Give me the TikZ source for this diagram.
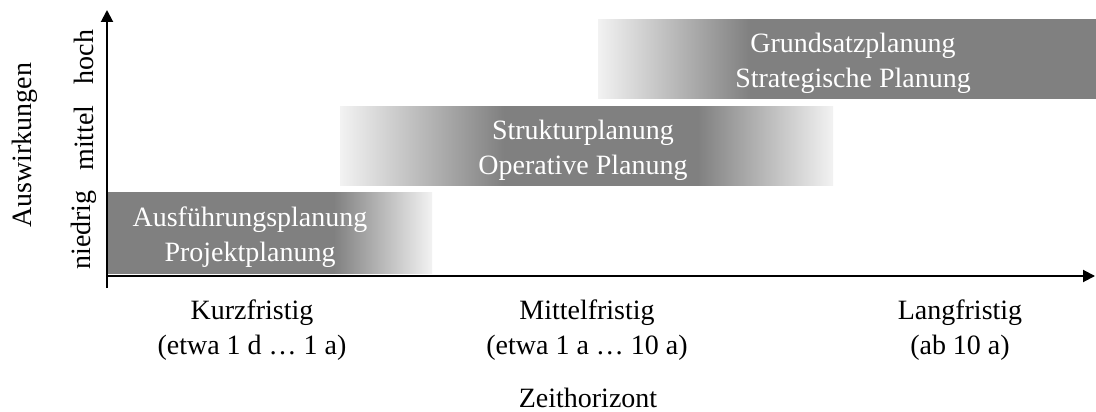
\documentclass[tikz,border=0pt]{standalone}
\usepackage{fontspec}
\setmainfont{Liberation Serif}
\usetikzlibrary{arrows.meta,positioning}
\definecolor{bargray}{gray}{0.5}
\definecolor{barfade}{gray}{0.95}
% fades of the three planning bars (path fills 25bp..75bp)
\pgfdeclarehorizontalshading{shortbar}{100bp}{color(0bp)=(bargray); color(59.8bp)=(bargray); color(75bp)=(barfade); color(100bp)=(barfade)}
\pgfdeclarehorizontalshading{midbar}{100bp}{color(0bp)=(barfade); color(25bp)=(barfade); color(41.7bp)=(bargray); color(61.2bp)=(bargray); color(75bp)=(barfade); color(100bp)=(barfade)}
\pgfdeclarehorizontalshading{longbar}{100bp}{color(0bp)=(barfade); color(25bp)=(barfade); color(40.3bp)=(bargray); color(100bp)=(bargray)}

\begin{document}
\begin{tikzpicture}[x=0.025cm,y=-0.025cm,font=\fontsize{19.9}{25}\selectfont,
  bartext/.style={text=white,align=center},
  axis/.style={line width=1.4pt,-{Triangle[length=3mm,width=3mm]}}]
  \useasboundingbox (0,0) rectangle (1096,412);
  % bars
  \path[shading=shortbar] (107,193) rectangle (432,273);
  \path[shading=midbar] (340,107) rectangle (833,186);
  \path[shading=longbar] (598,20) rectangle (1096,99);
  \node[bartext] (exec) at (250,237) {Ausführungsplanung\\Projektplanung};
  \node[bartext] (oper) at (583,150) {Strukturplanung\\Operative Planung};
  \node[bartext] (strat) at (853,63) {Grundsatzplanung\\Strategische Planung};
  % axes
  \coordinate (origin) at (107,276);
  \coordinate (ybot) at (107,288);
  \coordinate (ytip) at (107,10);
  \coordinate (xtip) at (1095,276);
  \draw[axis] (ybot) -- (ytip);
  \draw[axis] (origin) -- (xtip);
  \foreach \y/\lvl in {230/niedrig,138/mittel,57/hoch}{
    \node[rotate=90] (\lvl) at (84,\y) {\lvl};
  }
  \node[rotate=90] (impact) at (25,145) {Auswirkungen};
  \foreach \x/\term/\span/\id in {252/Kurzfristig/{(etwa 1 d … 1 a)}/short,587/Mittelfristig/{(etwa 1 a … 10 a)}/mid,960/Langfristig/{(ab 10 a)}/long}{
    \node[align=center] (\id) at (\x,330) {\term\\\span};
  }
  \node (horizon) at (588,398) {Zeithorizont};
\end{tikzpicture}
\end{document}
